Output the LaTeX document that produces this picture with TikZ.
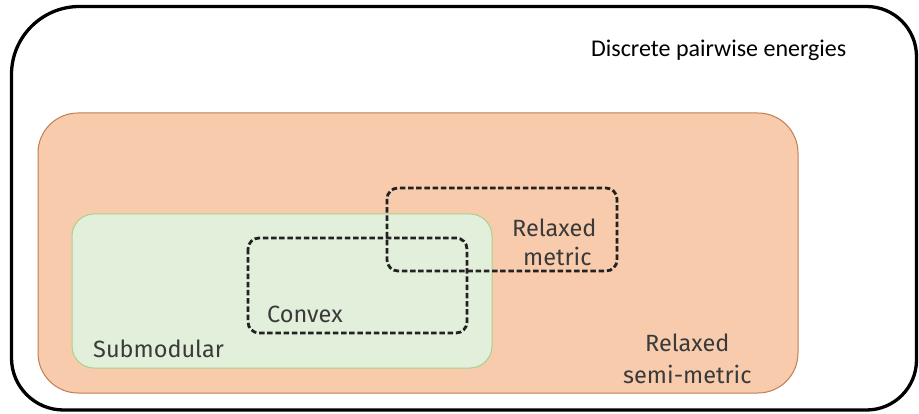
\documentclass[tikz,border=0pt]{standalone}
\usepackage{fontspec}
\setmainfont{Carlito}
\newfontfamily\labelfont{Fira Sans}
\definecolor{orangefill}{HTML}{F8CBAD}
\definecolor{orangeedge}{HTML}{C07E52}
\definecolor{greenfill}{HTML}{E2EFDA}
\definecolor{greenedge}{HTML}{A9D18E}
\definecolor{dashcol}{HTML}{222222}
\definecolor{labelgray}{HTML}{3A3A3A}
\begin{document}
\begin{tikzpicture}[x=1pt,y=-1pt,
  lbl/.style={font=\labelfont\fontsize{23.5}{28}\selectfont, text=labelgray, inner sep=0pt, anchor=base west},
  title/.style={font=\fontsize{24}{29}\selectfont, text=black, inner sep=0pt, anchor=base west},
  dashbox/.style={draw=dashcol, line width=2.8pt, dash pattern=on 5.5pt off 2.7pt, rounded corners=11pt},
  setbox/.style={line width=1pt}]
\useasboundingbox (0,0) rectangle (919,414);
% outer frame
\draw[line width=3.3pt] (11.5,200) [rounded corners=68pt] |- (450,6.5)
  [rounded corners=50pt] -| (916.5,200) [rounded corners=50pt] |- (450,410)
  [rounded corners=52pt] -| cycle;
% relaxed semi-metric set
\draw[setbox, draw=orangeedge, fill=orangefill, rounded corners=40pt] (38,113) rectangle (798,393);
% submodular set
\draw[setbox, draw=greenedge, fill=greenfill, rounded corners=22pt] (72,214) rectangle (492,368);
% dashed sets
\draw[dashbox] (248,238) rectangle (467,333);
\draw[dashbox] (387,188) rectangle (617,271);
% labels
\node[title] (t) at (591,57) {Discrete pairwise energies};
\node[lbl] (rm1) at (512,237) {Relaxed};
\node[lbl] (rm2) at (523,266) {metric};
\node[lbl] (cv) at (267,323) {Convex};
\node[lbl] (sm) at (93,357) {Submodular};
\node[lbl] (rs1) at (645,352) {Relaxed};
\node[lbl] (rs2) at (623,383) {semi-metric};
\end{tikzpicture}
\end{document}
